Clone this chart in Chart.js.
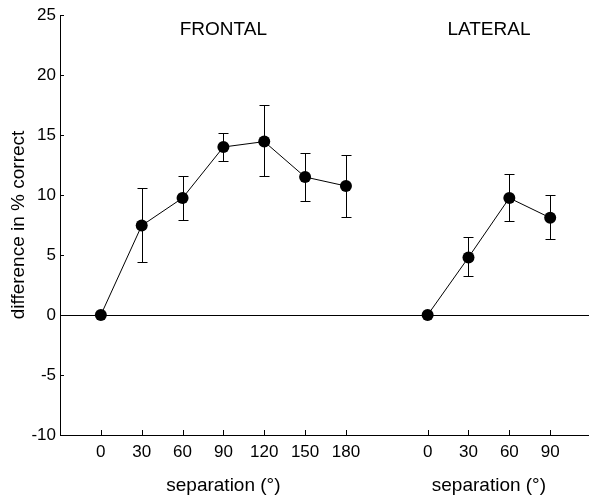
<!DOCTYPE html>
<html>
<head>
<meta charset="utf-8">
<script src="https://cdn.jsdelivr.net/npm/chart.js@4.4.1/dist/chart.umd.min.js"></script>
<style>
  html, body { margin: 0; padding: 0; background: #fff; }
  #wrap { width: 589px; height: 499px; }
</style>
</head>
<body>
<div id="wrap"><canvas id="myChart"></canvas></div>
<script>
// separation angles (tick labels) for each condition
const frontalSep = [0, 30, 60, 90, 120, 150, 180];
const lateralSep = [0, 30, 60, 90];
// position slot of each category on the x axis (two slots left empty between groups)
const frontalPos = [0, 1, 2, 3, 4, 5, 6];
const lateralPos = [8, 9, 10, 11];

// mean difference in % correct, with upper and lower ends of the error bars
const frontalMean = [0, 7.45, 9.75, 14.0, 14.45, 11.5, 10.75];
const frontalUpper = [0, 10.6, 11.6, 15.2, 17.5, 13.5, 13.35];
const frontalLower = [0, 4.4, 7.9, 12.8, 11.6, 9.5, 8.2];

const lateralMean = [0, 4.8, 9.75, 8.1];
const lateralUpper = [0, 6.5, 11.75, 10.0];
const lateralLower = [0, 3.25, 7.8, 6.3];

const groupTitles = ["FRONTAL", "LATERAL"];
const groupCenters = [3, 9.5];
const xTitle = "separation (°)";
const yTitle = "difference in % correct";
const yTicks = [-10, -5, 0, 5, 10, 15, 20, 25];

const tickPos = frontalPos.concat(lateralPos);
const tickText = frontalSep.concat(lateralSep);

function toPoints(pos, vals) {
  return pos.map(function (p, i) { return { x: p, y: vals[i] }; });
}

const FONT = "'Liberation Sans', Arial, sans-serif";

const errorBars = {
  id: "errorBars",
  afterDatasetsDraw(chart) {
    const ctx = chart.ctx;
    const xs = chart.scales.x;
    const ys = chart.scales.y;
    const groups = [
      [frontalPos, frontalUpper, frontalLower],
      [lateralPos, lateralUpper, lateralLower],
    ];
    ctx.save();
    ctx.strokeStyle = "#000";
    ctx.lineWidth = 1;
    groups.forEach(function (g) {
      g[0].forEach(function (p, i) {
        if (g[1][i] === g[2][i]) return;
        const x = Math.round(xs.getPixelForValue(p)) + 0.5;
        const yt = Math.round(ys.getPixelForValue(g[1][i])) + 0.5;
        const yb = Math.round(ys.getPixelForValue(g[2][i])) + 0.5;
        ctx.beginPath();
        ctx.moveTo(x, yt); ctx.lineTo(x, yb);
        ctx.moveTo(x - 5, yt); ctx.lineTo(x + 5, yt);
        ctx.moveTo(x - 5, yb); ctx.lineTo(x + 5, yb);
        ctx.stroke();
      });
    });
    ctx.restore();
  },
  afterDraw(chart) {
    const ctx = chart.ctx;
    const xs = chart.scales.x;
    const ys = chart.scales.y;
    const area = chart.chartArea;
    ctx.save();
    // inward tick marks on both axes
    ctx.strokeStyle = "#000";
    ctx.lineWidth = 1;
    tickPos.forEach(function (p) {
      const x = Math.round(xs.getPixelForValue(p)) + 0.5;
      ctx.beginPath();
      ctx.moveTo(x, area.bottom);
      ctx.lineTo(x, area.bottom - 5);
      ctx.stroke();
    });
    yTicks.forEach(function (v) {
      const y = Math.round(ys.getPixelForValue(v)) + 0.5;
      ctx.beginPath();
      ctx.moveTo(area.left, y);
      ctx.lineTo(area.left + 4, y);
      ctx.stroke();
    });
    ctx.fillStyle = "#000";
    ctx.textAlign = "center";
    ctx.textBaseline = "middle";
    ctx.font = "19px " + FONT;
    groupCenters.forEach(function (c, i) {
      ctx.fillText(groupTitles[i], xs.getPixelForValue(c), 30);
      ctx.fillText(xTitle, xs.getPixelForValue(c), 486);
    });
    ctx.restore();
  },
};

const ctx = document.getElementById("myChart").getContext("2d");
const myChart = new Chart(ctx, {
  type: "line",
  data: {
    datasets: [
      {
        label: "frontal",
        data: toPoints(frontalPos, frontalMean),
        borderColor: "#000",
        backgroundColor: "#000",
        borderWidth: 1,
        pointRadius: 6,
        pointBorderWidth: 0,
      },
      {
        label: "lateral",
        data: toPoints(lateralPos, lateralMean),
        borderColor: "#000",
        backgroundColor: "#000",
        borderWidth: 1,
        pointRadius: 6,
        pointBorderWidth: 0,
      },
    ],
  },
  options: {
    responsive: true,
    maintainAspectRatio: false,
    animation: false,
    layout: { autoPadding: false, padding: { top: 15, right: 0, left: 0, bottom: 0 } },
    plugins: {
      legend: { display: false },
      tooltip: { enabled: false },
    },
    scales: {
      x: {
        type: "linear",
        min: -1,
        max: 11.95,
        afterFit(scale) { scale.height = 64; },
        afterBuildTicks(scale) {
          scale.ticks = tickPos.map(function (p) { return { value: p }; });
        },
        border: { display: true, color: "#000", width: 1 },
        grid: { display: false, drawTicks: false },
        ticks: {
          autoSkip: false,
          maxRotation: 0,
          padding: 7,
          color: "#000",
          font: { family: FONT, size: 17 },
          callback(value) {
            const i = tickPos.indexOf(value);
            return i >= 0 ? String(tickText[i]) : "";
          },
        },
      },
      y: {
        min: -10,
        max: 25,
        afterFit(scale) { scale.width = 60; },
        afterBuildTicks(scale) {
          scale.ticks = yTicks.map(function (v) { return { value: v }; });
        },
        border: { display: true, color: "#000", width: 1 },
        grid: {
          drawOnChartArea: true,
          drawTicks: false,
          color(c) { return c.tick && c.tick.value === 0 ? "#000" : "rgba(0,0,0,0)"; },
        },
        ticks: {
          padding: 4,
          color: "#000",
          font: { family: FONT, size: 17 },
        },
        title: {
          display: true,
          text: yTitle,
          color: "#000",
          font: { family: FONT, size: 19 },
          padding: { top: 7, bottom: 0 },
        },
      },
    },
  },
  plugins: [errorBars],
});
</script>
</body>
</html>
